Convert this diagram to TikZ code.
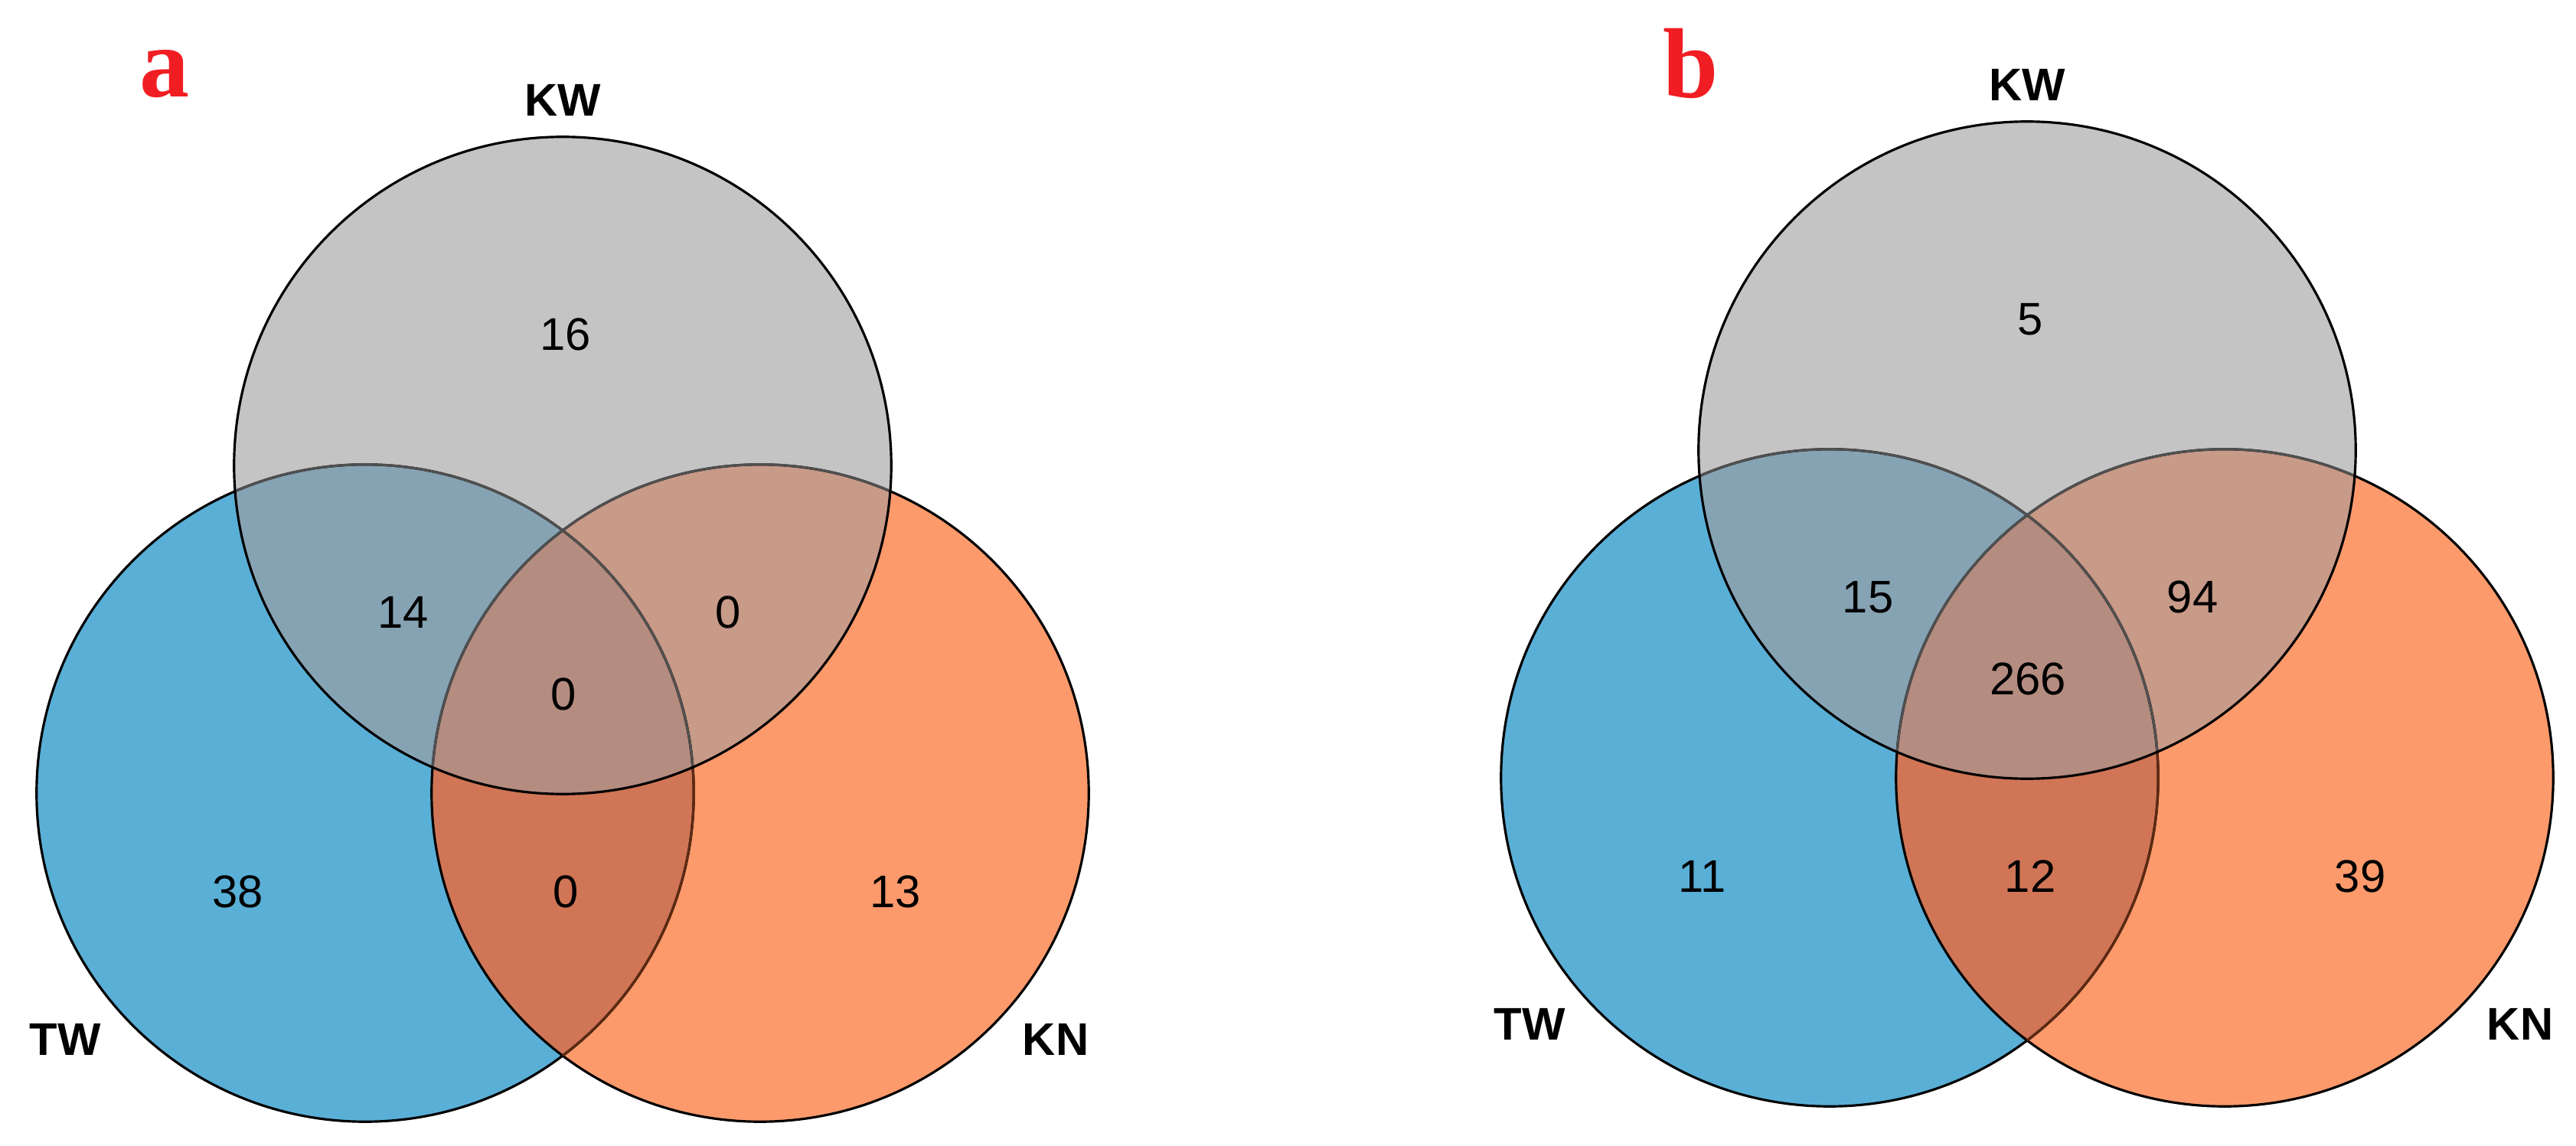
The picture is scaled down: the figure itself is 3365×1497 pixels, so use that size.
\documentclass[tikz,border=0pt]{standalone}
\usepackage{fontspec}
\setmainfont{Liberation Sans}
\newfontfamily\panelfont{Liberation Serif}
\usepackage{xcolor}
\definecolor{twblue}{HTML}{5AAFD6}
\definecolor{knorange}{HTML}{FD9A6C}
\definecolor{kwgray}{HTML}{C4C4C4}
\definecolor{twkw}{HTML}{86A3B4}
\definecolor{knkw}{HTML}{C89A88}
\definecolor{twkn}{HTML}{D07556}
\definecolor{allthree}{HTML}{B48C80}
\definecolor{rimkn}{HTML}{5C2A12}
\definecolor{rimkw}{HTML}{505050}
\definecolor{panelred}{HTML}{F01E23}
\usepackage{tikz}
\tikzstyle{setname} = [font=\fontsize{17}{17}\selectfont\bfseries, inner sep=0pt]
\tikzstyle{count} = [font=\fontsize{17}{17}\selectfont, inner sep=0pt]
\tikzstyle{panel} = [font=\panelfont\fontsize{37}{37}\selectfont\bfseries, text=panelred, inner sep=0pt]
\tikzstyle{rim} = [draw=black, line width=0.9pt]

% circles of one panel, centred on KW
\newcommand{\kwcirc}{(0,0) circle (4.29cm)}
\newcommand{\twcirc}{(-258,428) circle (4.29cm)}
\newcommand{\kncirc}{(258,428) circle (4.29cm)}

% #1 name prefix, #2 shift, then counts: KW, TW-KW, KW-KN, all, TW, TW-KN, KN
\newcommand{\vennpanel}[9]{%
  \begin{scope}[shift={#2}, name prefix=#1-]
    % fills
    \fill[twblue] \twcirc;
    \fill[knorange] \kncirc;
    \fill[kwgray] \kwcirc;
    \begin{scope} \clip \twcirc; \fill[twkw] \kwcirc; \fill[twkn] \kncirc; \end{scope}
    \begin{scope} \clip \kncirc; \fill[knkw] \kwcirc; \end{scope}
    \begin{scope} \clip \twcirc; \clip \kncirc; \fill[allthree] \kwcirc; \end{scope}
    % outlines
    \draw[rim] \twcirc;
    \draw[rim] \kncirc;
    \begin{scope} \clip \kncirc; \draw[rim, draw=rimkn] \twcirc; \end{scope}
    \begin{scope} \clip \kwcirc; \draw[rim, draw=rimkw] \twcirc; \draw[rim, draw=rimkw] \kncirc; \end{scope}
    \draw[rim] \kwcirc;
    % Nodes
    \node[setname] (kw) at (0,-477) {KW};
    \node[setname] (tw) at (-650,750) {TW};
    \node[setname] (kn) at (644,750) {KN};
    \node[count] (kwonly) at (4,-171) {#3};
    \node[count] (twkw) at (-208,192) {#4};
    \node[count] (kwkn) at (216,192) {#5};
    \node[count] (all) at (1,299) {#6};
    \node[count] (twonly) at (-424,557) {#7};
    \node[count] (twkn) at (4,557) {#8};
    \node[count] (knonly) at (435,557) {#9};
  \end{scope}}

\begin{document}
\begin{tikzpicture}[x=0.01cm, y=-0.01cm]
    \useasboundingbox (0,0) rectangle (3365,1497);

    \vennpanel{a}{(735,608)}{16}{14}{0}{0}{38}{0}{13}
    \vennpanel{b}{(2648,588)}{5}{15}{94}{266}{11}{12}{39}

    % panel letters
    \node[panel] (lettera) at (215,97) {a};
    \node[panel] (letterb) at (2209,83) {b};

\end{tikzpicture}
\end{document}
